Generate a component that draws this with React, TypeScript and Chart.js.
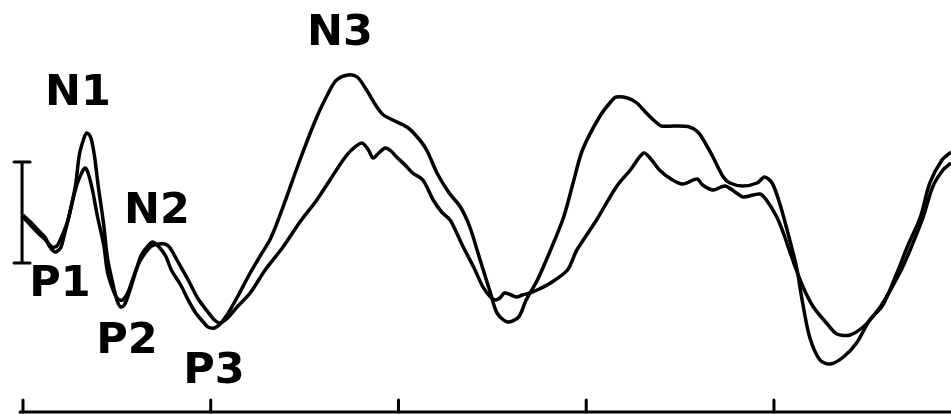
import React, { useEffect, useRef } from "react";
import { Chart, registerables } from "chart.js";

Chart.register(...registerables);

// Time axis (ms-like units), tick marks
const tickValues = [0, 100, 200, 300, 400];

// Trace A (larger amplitude)
const traceAx = [
  0, 4, 8, 12, 14, 17, 20, 22, 25, 28,
  30, 32.5, 34, 36, 38, 40, 43, 45, 48, 50,
  52, 54, 57, 60, 63, 67, 69, 72, 76, 79,
  84, 88, 92, 96, 98.5, 102, 105, 109, 114.5, 121,
  126, 132, 138.5, 147.5, 156.5, 163.5, 167, 173, 178, 183,
  188.5, 192, 197, 204.5, 210, 215, 220.5, 227, 233, 238,
  243, 249, 252.5, 258, 264, 268, 274, 281, 288, 293, 298,
  307, 313, 316, 322, 327, 332, 337, 340, 347, 355,
  359.5, 364, 367.5, 373, 376.5, 383.5, 391, 395, 399, 403,
  407, 412, 415, 419, 424.5, 430, 437, 444, 451, 458,
  465.5, 471, 478, 483, 489.5, 494.3, 498,
];
const traceAy = [
  19.7, 19.0, 18.2, 17.4, 16.6, 16.0, 16.4, 17.7, 20.0, 22.7,
  25.7, 27.4, 27.9, 27.5, 25.7, 22.7, 18.7, 15.4, 12.7, 11.2,
  10.5, 10.7, 12.2, 14.0, 15.7, 16.7, 17.0, 16.6, 15.6, 14.2,
  12.7, 11.2, 9.9, 9.0, 8.5, 8.4, 8.8, 9.8, 11.6, 13.9,
  15.5, 17.4, 20.5, 25.2, 29.5, 32.2, 33.2, 33.7, 33.5, 32.2,
  30.5, 29.7, 29.2, 28.5, 27.5, 26.2, 23.9, 21.9, 20.5, 18.5,
  15.5, 11.9, 9.9, 9.0, 9.5, 11.2, 13.2, 16.2, 19.5, 22.9, 26.2,
  29.5, 31.0, 31.5, 31.4, 30.9, 29.9, 29.0, 28.6, 28.6, 28.5,
  28.0, 26.7, 25.5, 23.5, 22.9, 22.6, 22.9, 23.5, 22.9, 20.9,
  18.2, 14.5, 11.2, 7.5, 5.2, 4.8, 5.5, 6.9, 9.2, 10.7,
  13.9, 16.5, 19.5, 22.9, 25.2, 26.0, 26.6,
];

// Trace B (smaller amplitude)
const traceBx = [
  0, 4, 8, 12, 15.5, 18, 21, 24, 26.5, 29,
  31.5, 33, 34.5, 37, 39.5, 43, 45, 48, 50.5, 53,
  56, 59, 62, 65.5, 68.5, 72, 75.5, 78, 82, 88,
  93, 98.5, 102, 105, 109, 114.5, 121, 129, 138.5, 147.5,
  156.5, 163.5, 170.5, 175, 180.5, 184, 186.5, 189.5, 193, 196,
  199, 203.5, 207.5, 213, 218.5, 223, 227.5, 231, 234.5, 240,
  245, 249, 251.5, 254, 256.5, 260, 263, 266, 270, 275,
  281, 290, 295, 305.5, 316, 323.5, 330.5, 334, 339, 346,
  351.5, 359, 362, 367.5, 374, 380, 383.5, 392.5, 396, 401.5,
  405, 410, 415.5, 421, 428, 433.5, 440.5, 447.5, 452.5, 458,
  467, 472.5, 479.5, 484.5, 490, 494.3, 498,
];
const traceBy = [
  19.5, 18.7, 17.9, 17.2, 16.5, 16.6, 17.7, 19.2, 21.2, 22.9,
  24.0, 24.4, 24.0, 22.2, 19.7, 16.7, 14.0, 12.2, 11.3, 11.2,
  12.0, 13.6, 15.0, 16.0, 16.6, 16.8, 16.8, 16.5, 15.2, 13.2,
  11.4, 10.0, 9.2, 8.9, 9.4, 10.6, 11.9, 14.2, 16.5, 19.0,
  21.2, 23.2, 25.2, 26.2, 26.9, 26.2, 25.4, 25.9, 26.4, 26.1,
  25.5, 24.7, 23.9, 23.2, 21.2, 20.0, 19.2, 17.9, 16.5, 14.5,
  12.5, 11.5, 11.2, 11.4, 11.9, 11.7, 11.5, 11.7, 11.9, 12.3,
  12.9, 14.2, 16.2, 19.2, 22.5, 24.2, 25.9, 25.4, 24.2, 23.2,
  22.8, 23.3, 22.7, 22.2, 22.6, 21.9, 21.5, 21.8, 21.2, 19.5,
  17.9, 15.2, 12.5, 10.5, 8.9, 7.8, 7.7, 8.5, 9.5, 10.9,
  13.9, 16.2, 19.5, 22.5, 24.2, 24.9, 25.5,
];

// Component labels
const peakNames = ["N1", "P1", "N2", "P2", "N3", "P3"];
const peakLabelX = [29.3, 19.7, 71.4, 55.4, 168.8, 101.7];
const peakLabelY = [30.7, 11.6, 18.9, 5.9, 36.7, 2.9];

// Calibration bar (data units)
const calX = -0.5;
const calLow = 14.9;
const calHigh = 25.0;

const decorPlugin = {
  id: "decor",
  afterDraw(chart: any) {
    const { ctx, scales } = chart;
    const xs = scales.x;
    const ys = scales.y;
    ctx.save();
    ctx.strokeStyle = "#000";
    ctx.fillStyle = "#000";
    ctx.lineCap = "round";

    // time axis
    const y0 = ys.getPixelForValue(0);
    ctx.lineWidth = 3;
    ctx.beginPath();
    ctx.moveTo(xs.getPixelForValue(-1.6), y0);
    ctx.lineTo(xs.getPixelForValue(xs.max), y0);
    ctx.stroke();
    tickValues.forEach((t) => {
      const px = xs.getPixelForValue(t);
      ctx.beginPath();
      ctx.moveTo(px, y0);
      ctx.lineTo(px, ys.getPixelForValue(1.2));
      ctx.stroke();
    });

    // calibration bar
    const cx = xs.getPixelForValue(calX);
    const ct = ys.getPixelForValue(calHigh);
    const cb = ys.getPixelForValue(calLow);
    ctx.lineWidth = 3;
    ctx.beginPath();
    ctx.moveTo(cx, ct);
    ctx.lineTo(cx, cb);
    ctx.moveTo(cx - 8, ct);
    ctx.lineTo(cx + 8, ct);
    ctx.moveTo(cx - 8, cb);
    ctx.lineTo(cx + 8, cb);
    ctx.stroke();

    // labels
    ctx.font = 'bold 43px "DejaVu Sans"';
    ctx.textAlign = "center";
    ctx.textBaseline = "alphabetic";
    peakNames.forEach((name, i) => {
      ctx.fillText(name, xs.getPixelForValue(peakLabelX[i]), ys.getPixelForValue(peakLabelY[i]));
    });
    ctx.restore();
  },
};

export default function App() {
  const canvasRef = useRef<HTMLCanvasElement | null>(null);

  useEffect(() => {
    document.body.style.margin = "0";
    const canvas = canvasRef.current;
    if (!canvas) return;
    const mk = (xs: number[], ys: number[]) => xs.map((x, i) => ({ x, y: ys[i] }));
    const chart = new Chart(canvas, {
      type: "line",
      data: {
        datasets: [
          {
            data: mk(traceAx, traceAy),
            borderColor: "#000",
            borderWidth: 3.5,
            pointRadius: 0,
            tension: 0.3,
            fill: false,
          },
          {
            data: mk(traceBx, traceBy),
            borderColor: "#000",
            borderWidth: 3.5,
            pointRadius: 0,
            tension: 0.3,
            fill: false,
          },
        ],
      },
      options: {
        animation: false,
        responsive: true,
        maintainAspectRatio: false,
        layout: { padding: 0 },
        plugins: { legend: { display: false }, tooltip: { enabled: false } },
        scales: {
          x: { type: "linear", min: -12.25, max: 494.3, display: false },
          y: { type: "linear", min: -0.2, max: 41.2, display: false },
        },
      },
      plugins: [decorPlugin],
    });
    return () => chart.destroy();
  }, []);

  return (
    <div style={{ width: 951, height: 414, position: "relative", background: "#fff" }}>
      <canvas ref={canvasRef} />
    </div>
  );
}
